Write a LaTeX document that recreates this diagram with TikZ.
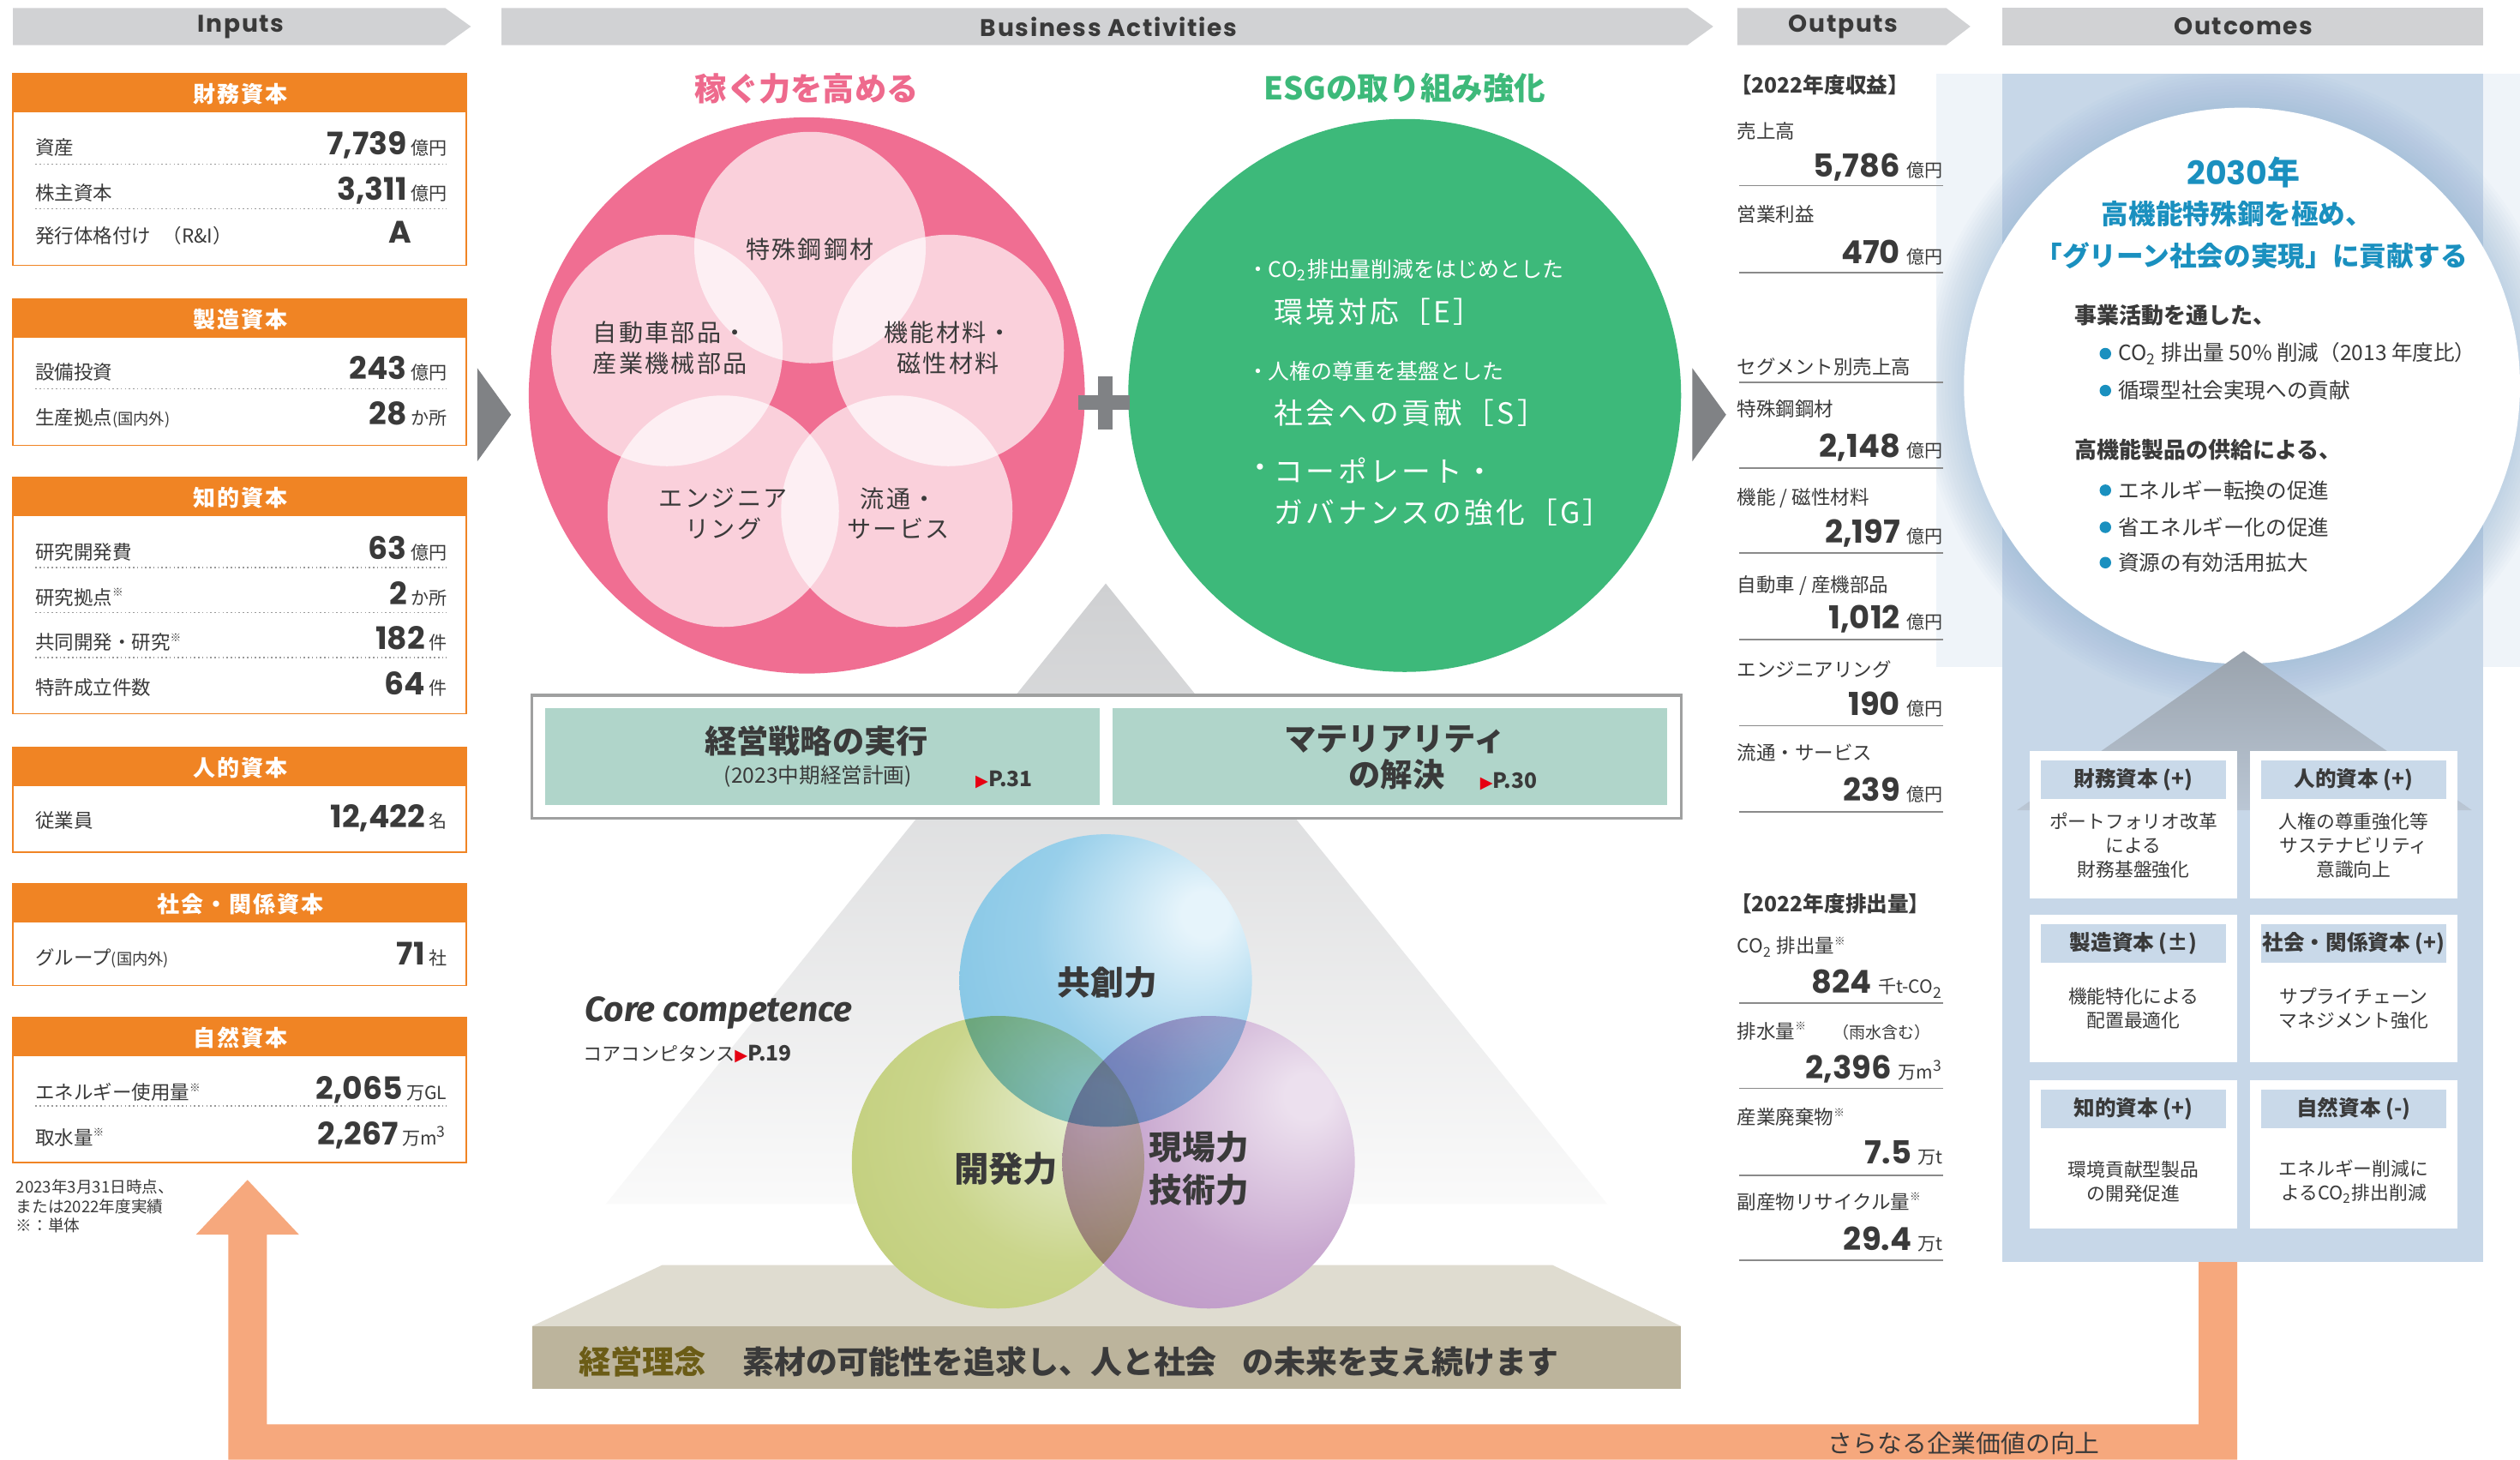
\documentclass[tikz,border=0pt]{standalone}
\usepackage{fontspec}
\setmainfont{Noto Sans CJK JP}
\newfontfamily\numfont{Poppins}
\newfontfamily\hdrfont{Poppins}[LetterSpace=6]
\newfontfamily\dejavu{DejaVu Sans}
\newfontfamily\corefont{Fira Sans}
\newfontfamily\trackfont{Noto Sans CJK JP}[LetterSpace=8]
\newfontfamily\esgfont{Noto Sans CJK JP}[LetterSpace=10]
\usetikzlibrary{calc}

\definecolor{ctext}{HTML}{3A3A3A}
\definecolor{chdr}{HTML}{D1D2D4}
\definecolor{corange}{HTML}{F08424}
\definecolor{cdot}{HTML}{9A9A9A}
\definecolor{cchev}{HTML}{808285}
\definecolor{cpink}{HTML}{F06E92}
\definecolor{cpinkt}{HTML}{EE6A8D}
\definecolor{cgreen}{HTML}{3DB97A}
\definecolor{cteal}{HTML}{B0D5CA}
\definecolor{cboxline}{HTML}{9FA0A0}
\definecolor{cpyrtop}{HTML}{CFD0D2}
\definecolor{cpyrbot}{HTML}{FAFAFA}
\definecolor{cbeige}{HTML}{DFDCD0}
\definecolor{cfront}{HTML}{BCB49C}
\definecolor{colive}{HTML}{6B5C16}
\definecolor{cpanel}{HTML}{C7D7E8}
\definecolor{clight}{HTML}{EFF4F9}
\definecolor{cglow}{HTML}{8EB1D3}
\definecolor{cblue}{HTML}{1A90BF}
\definecolor{croofa}{HTML}{9AA3AD}
\definecolor{croofb}{HTML}{BAC6D4}
\definecolor{cstrip}{HTML}{C9D9E9}
\definecolor{csalmon}{HTML}{F6A87D}
\definecolor{cred}{HTML}{E60012}
\definecolor{cline}{HTML}{8A8A8A}
\definecolor{blueA}{HTML}{E6F4FB}
\definecolor{blueB}{HTML}{98CFEA}
\definecolor{blueC}{HTML}{76BFE1}
\definecolor{greenA}{HTML}{E6EDCF}
\definecolor{greenB}{HTML}{CAD58B}
\definecolor{greenC}{HTML}{BCCA72}
\definecolor{purpA}{HTML}{ECE0EE}
\definecolor{purpB}{HTML}{C9A9D0}
\definecolor{purpC}{HTML}{B389BF}

\pgfdeclareradialshading{shblue}{\pgfpoint{18bp}{12bp}}{color(0bp)=(blueA); color(4bp)=(blueA); color(24bp)=(blueB); color(50bp)=(blueC); color(72bp)=(blueC)}
\pgfdeclareradialshading{shgreen}{\pgfpoint{18bp}{10bp}}{color(0bp)=(greenA); color(4bp)=(greenA); color(24bp)=(greenB); color(50bp)=(greenC); color(72bp)=(greenC)}
\pgfdeclareradialshading{shpurp}{\pgfpoint{18bp}{12bp}}{color(0bp)=(purpA); color(4bp)=(purpA); color(24bp)=(purpB); color(50bp)=(purpC); color(72bp)=(purpC)}

\newcommand{\fsz}[1]{\fontsize{#1}{#1}\selectfont}
\newcommand{\fszl}[2]{\fontsize{#1}{#2}\selectfont}
\newcommand{\kome}{\raisebox{0.42em}{\fontsize{3.6}{3.6}\selectfont ※}}
\newcommand{\redtri}{{\color{cred}\dejavu\fontsize{5.5}{5.5}\selectfont ▶}}

\tikzset{
  hdrtext/.style={font=\hdrfont\bfseries\fsz{8}},
  inhead/.style={font=\trackfont\bfseries\fsz{7.4}, text=white},
  inlab/.style={anchor=base west, font=\fsz{6.4}},
  innum/.style={anchor=base east, font=\numfont\bfseries\fsz{10.3}},
  inunit/.style={anchor=base east, font=\fsz{6}},
  indots/.style={draw=cdot, line width=0.35pt, dash pattern=on 0.45pt off 0.9pt},
  pinktxt/.style={font=\trackfont\fszl{8}{10.1}, align=center},
  esgsmall/.style={anchor=west, font=\fsz{7.1}, text=white},
  esgbig/.style={anchor=west, font=\esgfont\fsz{9.6}, text=white},
  outlab/.style={anchor=base west, font=\fsz{6.4}},
  outnum/.style={anchor=base east, font=\numfont\bfseries\fsz{10.5}},
  outunit/.style={anchor=base east, font=\fsz{6}},
  outrule/.style={draw=cline, line width=0.5pt},
  obhead/.style={font=\bfseries\fsz{7}},
  obbody/.style={font=\fszl{6.2}{8}, align=center},
  tealtxt/.style={font=\bfseries\fsz{10.6}},
  coretxt/.style={font=\bfseries\fszl{11}{14.4}, align=left},
  bluetxt/.style={font=\bfseries\fsz{9}, text=cblue},
  octxt/.style={anchor=west, font=\fsz{7}},
  ochead/.style={anchor=west, font=\bfseries\fsz{7.4}},
}

\newcommand{\inbox}[4]{%
  \fill[white] (8,#2) rectangle (290,#3);
  \fill[corange] (8,#2) rectangle (290,#2+24);
  \draw[corange, line width=0.5pt] (8,#2) rectangle (290,#3);
  \node[inhead] (#1) at (149.5,#2+12.5) {#4};}
\newcommand{\inrow}[5]{%
  \node[inlab] (#1l) at (22,#2) {#3};
  \node[inunit] (#1u) at (278,#2) {#5};
  \node[innum] (#1n) at ([xshift=-1.2pt]#1u.base west) {#4};}
\newcommand{\indot}[1]{\draw[indots] (22,#1) -- (278,#1);}
\newcommand{\outitem}[7]{%
  \node[outlab] (#1l) at (1081,#2) {#3};
  \node[outunit] (#1u) at (1209,#4) {#6};
  \node[outnum] (#1n) at ([xshift=-2.2pt]#1u.base west) {#5};
  \draw[outrule] (1082,#7) -- (1209,#7);}
\newcommand{\obox}[6]{%
  \fill[white] (#2,#3) rectangle ++(129,92);
  \fill[cstrip] (#2+7,#3+6) rectangle ++(115,24);
  \node[obhead] (#1h) at (#2+64.5,#3+18) {#4};
  \node[obbody] (#1b) at (#2+64.5,#3+#6) {#5};}

\begin{document}
\begin{tikzpicture}[x=0.1875mm,y=-0.1875mm,
  every node/.style={inner sep=0pt, outer sep=0pt, text=ctext}]
\useasboundingbox (0,0) rectangle (1568,908);
\fill[white] (0,0) rectangle (1568,908);

% ---------- header bars ----------
\fill[chdr] (8,5) -- (277,5) -- (293,16.5) -- (277,28) -- (8,28) -- cycle;
\node[hdrtext] (hin) at (150,16.5) {Inputs};
\fill[chdr] (312,5) -- (1050,5) -- (1066,16.5) -- (1050,28) -- (312,28) -- cycle;
\node[hdrtext] (hba) at (690,16.5) {Business Activities};
\fill[chdr] (1081,5) -- (1211,5) -- (1226,16.5) -- (1211,28) -- (1081,28) -- cycle;
\node[hdrtext] (hout) at (1147,16.5) {Outputs};
\fill[chdr] (1246,5) rectangle (1545,28);
\node[hdrtext] (hoc) at (1396,16.5) {Outcomes};

% ---------- inputs ----------
\inbox{b1}{46}{165}{財務資本}
\inrow{r11}{96}{資産}{7,739}{億円}
\inrow{r12}{124.5}{株主資本}{3,311}{億円}
\node[inlab] (r13l) at (22,151) {発行体格付け\hspace{0.6em}（R\&I）};
\node[innum] (r13n) at (256,151) {A};
\indot{102}\indot{130}

\inbox{b2}{186}{277}{製造資本}
\inrow{r21}{236}{設備投資}{243}{億円}
\inrow{r22}{264}{生産拠点{\fsz{5.2}(国内外)}}{28}{か所}
\indot{242}

\inbox{b3}{297}{444}{知的資本}
\inrow{r31}{348}{研究開発費}{63}{億円}
\inrow{r32}{376}{研究拠点\kome}{2}{か所}
\inrow{r33}{404}{共同開発・研究\kome}{182}{件}
\inrow{r34}{432}{特許成立件数}{64}{件}
\indot{353}\indot{381}\indot{409}

\inbox{b4}{465}{530}{人的資本}
\inrow{r41}{515}{従業員}{12,422}{名}

\inbox{b5}{550}{613}{社会・関係資本}
\inrow{r51}{600}{グループ{\fsz{5.2}(国内外)}}{71}{社}

\inbox{b6}{633}{723}{自然資本}
\inrow{r61}{684}{エネルギー使用量\kome}{2,065}{万GL}
\inrow{r62}{712}{取水量\kome}{2,267}{万m\textsuperscript{3}}
\indot{688}

\node[anchor=north west, font=\fszl{5.3}{6.4}, align=left] (foot) at (10,734)
  {2023年3月31日時点、\\または2022年度実績\\※：単体};

% ---------- return arrow ----------
\fill[csalmon] (1368,784) -- (1392,784) -- (1392,908) -- (142,908) -- (142,768)
  -- (122,768) -- (154,734) -- (186,768) -- (166,768) -- (166,886) -- (1368,886) -- cycle;
\node[font=\fsz{8.2}] (ret) at (1222,898) {さらなる企業価値の向上};

% ---------- pyramid and base ----------
\shade[top color=cpyrtop, bottom color=cpyrbot] (688,363) -- (1000,749) -- (377,749) -- cycle;
\fill[cbeige] (412,787) -- (966,787) -- (1046,825) -- (331,825) -- cycle;
\fill[cfront] (331,825) rectangle (1046,864);
\node[anchor=west, font=\bfseries\fsz{10.6}, text=colive] (rinen) at (360,847) {経営理念};
\node[anchor=west, font=\bfseries\fsz{10.5}] (rinent) at (462,847) {素材の可能性を追求し、人と社会\hspace{0.8em}の未来を支え続けます};

% ---------- strategy box ----------
\draw[cboxline, line width=0.9pt, fill=white] (331,432.5) rectangle (1046,509);
\fill[cteal] (339,440.5) rectangle (684,501);
\fill[cteal] (692,440.5) rectangle (1037.5,501);
\node[tealtxt] (st1) at (508,461) {経営戦略の実行};
\node[font=\fsz{7}] (st1b) at (509,483) {(2023中期経営計画)};
\node[anchor=west, font=\bfseries\fsz{7}] (st1p) at (607,485) {\redtri P.31};
\node[tealtxt] (st2) at (868,460) {マテリアリティ};
\node[tealtxt] (st2b) at (869,482) {の解決};
\node[anchor=west, font=\bfseries\fsz{7}] (st2p) at (921,486) {\redtri P.30};

% ---------- core competence ----------
\begin{scope}[blend group=multiply]
  \shade[shading=shblue] (688,610) circle (91);
  \shade[shading=shgreen] (621,723) circle (91);
  \shade[shading=shpurp] (752,723) circle (91);
\end{scope}
\node[font=\bfseries\fsz{11}] (kyo) at (689,611) {共創力};
\node[font=\bfseries\fsz{11.5}] (kai) at (626,727) {開発力};
\node[coretxt] (gen) at (746,727) {現場力\\技術力};
\node[anchor=west, font=\corefont\bfseries\itshape\fsz{11.6}] (cc) at (364,630) {Core competence};
\node[anchor=west, font=\fsz{6.3}] (ccj) at (363,656) {コアコンピタンス\redtri{\bfseries\fsz{7}P.19}};

% ---------- pink circle ----------
\fill[cpink] (502,246) circle (173);
\foreach \cx/\cy in {504/154, 415/218, 590/218, 450/318, 558/318}
  \fill[white, fill opacity=0.68] (\cx,\cy) circle (72);
\node[font=\bfseries\fsz{10.6}, text=cpinkt] (pt) at (502,55) {稼ぐ力を高める};
\node[pinktxt] (p1) at (504,155) {特殊鋼鋼材};
\node[pinktxt] (p2) at (417,216.5) {自動車部品・\\産業機械部品};
\node[pinktxt] (p3) at (590,216.5) {機能材料・\\磁性材料};
\node[pinktxt] (p4) at (450,319.5) {エンジニア\\リング};
\node[pinktxt] (p5) at (559,319.5) {流通・\\サービス};

% ---------- green circle ----------
\fill[cgreen] (874,246) circle (172);
\node[font=\bfseries\fsz{10.4}, text=cgreen] (gt) at (874,55) {ESGの取り組み強化};
\node[esgsmall] (g1) at (776,168) {・CO\textsubscript{2}排出量削減をはじめとした};
\node[esgbig] (g2) at (793,194) {環境対応［E］};
\node[esgsmall] (g3) at (776,231) {・人権の尊重を基盤とした};
\node[esgbig] (g4) at (793,257) {社会への貢献［S］};
\node[esgbig, anchor=east] (g5a) at (793,293) {・};
\node[esgbig] (g5) at (793,293) {コーポレート・};
\node[esgbig] (g6) at (793,319) {ガバナンスの強化［G］};

% chevrons and plus
\fill[cchev] (297,229) -- (318,258) -- (297,287) -- cycle;
\fill[cchev] (1053,229) -- (1074,258) -- (1053,287) -- cycle;
\fill[cchev] (671,246) rectangle (703,255);
\fill[cchev] (683,234) rectangle (692,267);

% ---------- outcomes ----------
\fill[clight] (1205,46) rectangle (1568,415);
\fill[cpanel] (1246,46) rectangle (1545,785);
\begin{scope}
  \clip (1205,46) rectangle (1568,785);
  \foreach \r in {175,177,...,199}
    \fill[cglow, opacity=0.04] (1395,240) circle (\r);
\end{scope}
\fill[white] (1395,240) circle (173);
\shade[top color=croofa, bottom color=croofb] (1396,405) -- (1538,504) -- (1255,504) -- cycle;

\node[font=\bfseries\fsz{10.8}, text=cblue] (oc1) at (1396,107) {{\numfont 2030}年};
\node[bluetxt] (oc2) at (1392,133) {高機能特殊鋼を極め、};
\node[bluetxt] (oc3) at (1401,159) {「グリーン社会の実現」に貢献する};
\node[ochead] (oc4) at (1291,196) {事業活動を通した、};
\node[octxt] (oc5) at (1318,220) {CO\textsubscript{2} 排出量 50\% 削減（2013 年度比）};
\node[octxt] (oc6) at (1318,243) {循環型社会実現への貢献};
\node[ochead] (oc7) at (1291,280) {高機能製品の供給による、};
\node[octxt] (oc8) at (1318,305) {エネルギー転換の促進};
\node[octxt] (oc9) at (1318,328) {省エネルギー化の促進};
\node[octxt] (oc10) at (1318,350) {資源の有効活用拡大};
\foreach \by in {220,243,305,328,350}
  \fill[cblue] (1310,\by) circle (3.6);

\obox{x1}{1263}{467}{財務資本 (+)}{ポートフォリオ改革\\による\\財務基盤強化}{59}
\obox{x2}{1400}{467}{人的資本 (+)}{人権の尊重強化等\\サステナビリティ\\意識向上}{59}
\obox{x3}{1263}{569}{製造資本 (±)}{機能特化による\\配置最適化}{58.5}
\obox{x4}{1400}{569}{社会・関係資本 (+)}{サプライチェーン\\マネジメント強化}{58.5}
\obox{x5}{1263}{672}{知的資本 (+)}{環境貢献型製品\\の開発促進}{63}
\obox{x6}{1400}{672}{自然資本 (-)}{エネルギー削減に\\よるCO\textsubscript{2}排出削減}{63}

% ---------- outputs ----------
\node[anchor=west, font=\bfseries\fsz{7}] (oh1) at (1077,53) {【2022年度収益】};
\outitem{o1}{86}{売上高}{110}{5,786}{億円}{115.5}
\outitem{o2}{138}{営業利益}{164}{470}{億円}{169.5}
\node[outlab] (osg) at (1081,233) {セグメント別売上高};
\draw[outrule] (1082,238) -- (1209,238);
\outitem{o3}{259}{特殊鋼鋼材}{284.5}{2,148}{億円}{291}
\outitem{o4}{314}{機能 / 磁性材料}{338}{2,197}{億円}{344}
\outitem{o5}{368}{自動車 / 産機部品}{391}{1,012}{億円}{398}
\outitem{o6}{421}{エンジニアリング}{445}{190}{億円}{451.5}
\outitem{o7}{473}{流通・サービス}{498.5}{239}{億円}{505}
\node[anchor=west, font=\bfseries\fsz{7}] (oh2) at (1077,562) {【2022年度排出量】};
\outitem{e1}{593}{CO\textsubscript{2} 排出量\kome}{618}{824}{千t-CO\textsubscript{2}}{624}
\outitem{e2}{646}{排水量\kome\hspace{1.4em}{\fsz{5.4}（雨水含む）}}{671}{2,396}{万m\textsuperscript{3}}{677}
\outitem{e3}{699.5}{産業廃棄物\kome}{724}{7.5}{万t}{731}
\outitem{e4}{752}{副産物リサイクル量\kome}{778}{29.4}{万t}{784}

\end{tikzpicture}
\end{document}
